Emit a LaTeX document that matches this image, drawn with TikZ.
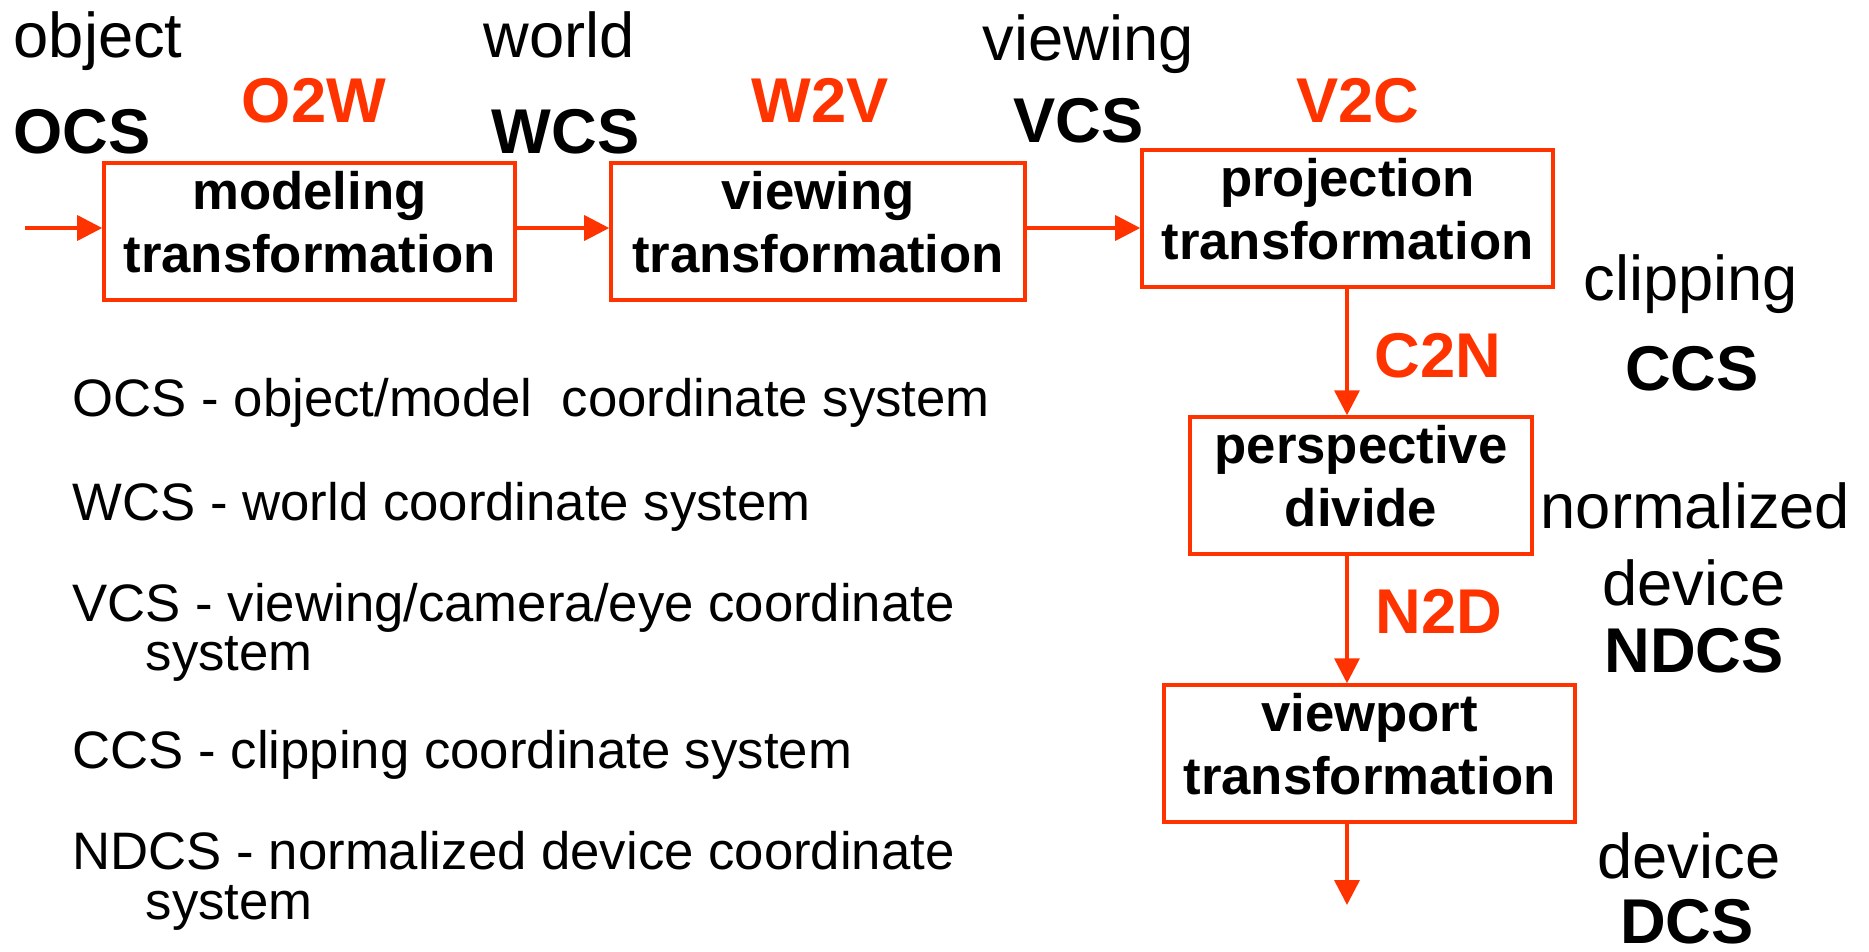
\documentclass[tikz,border=0pt]{standalone}
\usepackage{fontspec}
\setmainfont{Liberation Sans}
\usetikzlibrary{arrows.meta}
\definecolor{pipered}{RGB}{255,51,0}
\newcommand{\twolines}[2]{\rule{0pt}{0.45cm}#1\\#2\rule[-0.26cm]{0pt}{0pt}}

\begin{document}
\begin{tikzpicture}
    % Styles
    \tikzstyle{stage} = [rectangle, draw=pipered, line width=1pt, minimum height=1.37cm, align=center, inner sep=0pt, font=\fontsize{15}{18.1}\selectfont\bfseries]
    \tikzstyle{arrow} = [-{Triangle[length=0.25cm,width=0.25cm]}, draw=pipered, line width=1pt]
    \tikzstyle{space} = [inner sep=0pt, font=\fontsize{18}{18}\selectfont]
    \tikzstyle{abbr} = [inner sep=0pt, font=\fontsize{18}{18}\selectfont\bfseries]
    \tikzstyle{xform} = [inner sep=0pt, anchor=base, text=pipered, font=\fontsize{18}{18}\selectfont\bfseries]
    \tikzstyle{legend} = [inner sep=0pt, anchor=base west, font=\fontsize{15}{15}\selectfont]

    \useasboundingbox (0,0) rectangle (18.69,-9.52);

    % Nodes
    \node[stage, minimum width=4.11cm] (model) at (3.095,-2.315) {\twolines{modeling}{transformation}};
    \node[stage, minimum width=4.14cm] (view) at (8.18,-2.315) {\twolines{viewing}{transformation}};
    \node[stage, minimum width=4.11cm] (proj) at (13.475,-2.185) {\twolines{projection}{transformation}};
    \node[stage, minimum width=3.42cm] (persp) at (13.61,-4.855) {\twolines{perspective}{divide}};
    \node[stage, minimum width=4.11cm] (vport) at (13.695,-7.535) {\twolines{viewport}{transformation}};

    % Coordinate systems
    \node[space, anchor=base west] (objword) at (0.13,-0.57) {object};
    \node[abbr, anchor=base west] (ocs) at (0.13,-1.53) {OCS};
    \node[space, anchor=base west] (worldword) at (4.83,-0.57) {world};
    \node[abbr, anchor=base west] (wcs) at (4.91,-1.53) {WCS};
    \node[space, anchor=base west] (viewword) at (9.82,-0.60) {viewing};
    \node[abbr, anchor=base west] (vcs) at (10.13,-1.42) {VCS};
    \node[space, anchor=base west] (clipword) at (15.83,-3.00) {clipping};
    \node[abbr, anchor=base] (ccs) at (16.92,-3.90) {CCS};
    \node[space, anchor=base west] (normword) at (15.40,-5.28) {normalized};
    \node[space, anchor=base] (devword) at (16.94,-6.05) {device};
    \node[abbr, anchor=base] (ndcs) at (16.94,-6.72) {NDCS};
    \node[space, anchor=base] (dcsword) at (16.89,-8.78) {device};
    \node[abbr, anchor=base] (dcs) at (16.87,-9.43) {DCS};

    % Transformation names
    \node[xform] (o2w) at (3.14,-1.22) {O2W};
    \node[xform] (w2v) at (8.20,-1.22) {W2V};
    \node[xform] (v2c) at (13.58,-1.22) {V2C};
    \node[xform] (c2n) at (14.38,-3.77) {C2N};
    \node[xform] (n2d) at (14.39,-6.33) {N2D};

    % Legend
    \node[legend] (ocsdef) at (0.72,-4.16) {OCS - object/model\ \ coordinate system};
    \node[legend] (wcsdef) at (0.72,-5.20) {WCS - world coordinate system};
    \node[legend] (vcsdef) at (0.72,-6.21) {VCS - viewing/camera/eye coordinate};
    \node[legend] (vcssys) at (1.45,-6.70) {system};
    \node[legend] (ccsdef) at (0.72,-7.68) {CCS - clipping coordinate system};
    \node[legend] (ndcsdef) at (0.72,-8.69) {NDCS - normalized device coordinate};
    \node[legend] (ndcssys) at (1.45,-9.19) {system};

    % Arrows
    \coordinate (in) at (0.25,-2.28);
    \coordinate (out) at (13.47,-9.05);
    \draw[arrow] (in) -- (in -| model.west);
    \draw[arrow] (model.east |- in) -- (view.west |- in);
    \draw[arrow] (view.east |- in) -- (proj.west |- in);
    \draw[arrow] (proj.south -| out) -- (persp.north -| out);
    \draw[arrow] (persp.south -| out) -- (vport.north -| out);
    \draw[arrow] (vport.south -| out) -- (out);
\end{tikzpicture}
\end{document}
